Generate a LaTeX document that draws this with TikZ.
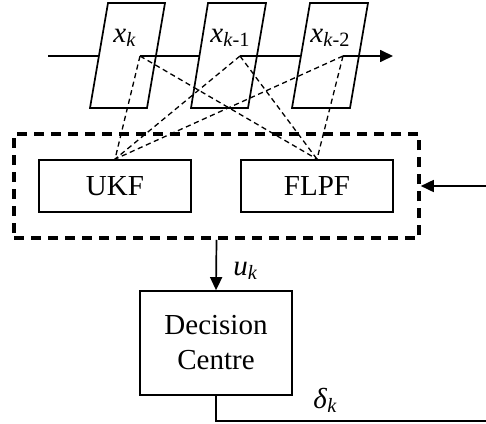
\documentclass[tikz,border=0pt]{standalone}
\usepackage{fontspec}
\setmainfont{Liberation Serif}[ItalicFont={* Italic}]
\usetikzlibrary{arrows.meta,calc}
\begin{document}
\begin{tikzpicture}[x=0.5pt,y=-0.5pt,
  wire/.style={line width=0.85pt},
  tipped/.style={-{Triangle[length=6.5pt,width=6pt]}},
  link/.style={line width=0.65pt, dash pattern=on 2.6pt off 1.8pt},
  txt/.style={font=\fontsize{14.5}{17.5}\selectfont, inner sep=0pt},
  block/.style={draw, line width=0.85pt, minimum width=76pt, minimum height=26pt,
                inner sep=0pt, align=center, font=\fontsize{14.5}{17.5}\selectfont},
  group/.style={draw, line width=1.8pt, dash pattern=on 5pt off 3.5pt,
                minimum width=202.5pt, minimum height=52pt, inner sep=0pt}
]
\useasboundingbox (0,0) rectangle (486,423);
\clip (0,0) rectangle (486,423);

% sample slots (parallelograms)
\coordinate (s1tl) at (108,3);  \coordinate (s1tr) at (165,3);
\coordinate (s1br) at (147,108); \coordinate (s1bl) at (90,108);
\coordinate (s2tl) at (208,3);  \coordinate (s2tr) at (266,3);
\coordinate (s2br) at (248,108); \coordinate (s2bl) at (191,108);
\coordinate (s3tl) at (310,3);  \coordinate (s3tr) at (368,3);
\coordinate (s3br) at (350,108); \coordinate (s3bl) at (292,108);
\draw[wire] (s1tl) -- (s1tr) -- (s1br) -- (s1bl) -- cycle;
\draw[wire] (s2tl) -- (s2tr) -- (s2br) -- (s2bl) -- cycle;
\draw[wire] (s3tl) -- (s3tr) -- (s3br) -- (s3bl) -- cycle;

\node[txt, anchor=base west] (l1) at (113,42) {\textit{x}\textsubscript{\textit{k}}};
\node[txt, anchor=base west] (l2) at (210,42) {\textit{x}\textsubscript{\textit{k}-1}};
\node[txt, anchor=base west] (l3) at (310,42) {\textit{x}\textsubscript{\textit{k}-2}};

% taps inside the slots and ends of the delay line
\coordinate (p1) at (140,56);
\coordinate (p2) at (240,56);
\coordinate (p3) at (343,56);
\coordinate (in) at (48,56);
\coordinate (out) at (393,56);

% blocks
\node[group] (grp) at (216.5,186) {};
\node[block] (ukf) at (115,186) {UKF};
\node[block] (flpf) at (317,186) {FLPF};
\node[block, minimum height=52pt] (dc) at (216,343) {Decision\\Centre};

% delay line
\draw[wire] (in) -- ($(s1tl)!0.505!(s1bl)$);
\draw[wire] (p1) -- ($(s2tl)!0.505!(s2bl)$);
\draw[wire] (p2) -- ($(s3tl)!0.505!(s3bl)$);
\draw[wire, tipped] (p3) -- (out);

% taps to filters
\foreach \p in {p1,p2,p3}
  \draw[link] (\p) -- (ukf.north) (\p) -- (flpf.north);

% filter output to decision centre
\draw[wire, tipped] (grp.south) -- (dc.north);
\node[txt, anchor=base west] (uk) at (233,275) {\textit{u}\textsubscript{\textit{k}}};

% feedback
\coordinate (turn) at (492,421);
\draw[wire, tipped] (dc.south) |- (turn) |- (grp.east);
\node[txt, anchor=base west] (dk) at (313,408) {\textit{δ}\textsubscript{\textit{k}}};
\end{tikzpicture}
\end{document}
